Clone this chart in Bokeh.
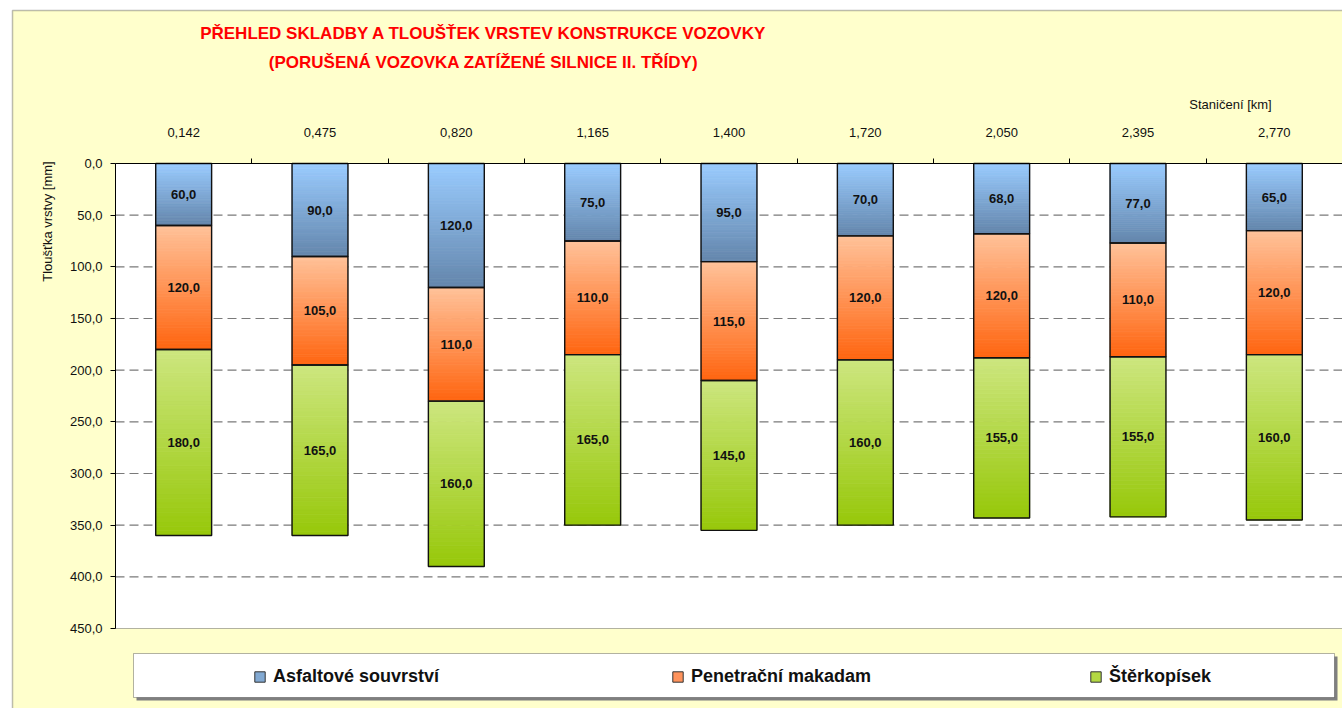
import math
from bokeh.plotting import figure
from bokeh.models import (Range1d, FixedTicker, CustomJSTickFormatter, ColumnDataSource,
                          Label, BoxAnnotation, Legend, LegendItem, LinearAxis)
from bokeh.core.properties import value
from bokeh.embed import file_html
from bokeh.resources import INLINE

# ---------------- data ----------------
stations = ["0,142", "0,475", "0,820", "1,165", "1,400", "1,720", "2,050", "2,395", "2,770"]
asfalt = [60, 90, 120, 75, 95, 70, 68, 77, 65]
makadam = [120, 105, 110, 110, 115, 120, 120, 110, 120]
sterk = [180, 165, 160, 165, 145, 160, 155, 155, 160]
series_names = ["Asfaltové souvrství", "Penetrační makadam", "Štěrkopísek"]
series_values = [asfalt, makadam, sterk]
y_ticks = [0, 50, 100, 150, 200, 250, 300, 350, 400, 450]

title_lines = ["PŘEHLED SKLADBY A TLOUŠŤEK VRSTEV KONSTRUKCE VOZOVKY",
               "(PORUŠENÁ VOZOVKA ZATÍŽENÉ SILNICE II. TŘÍDY)"]
y_label = "Tloušťka vrstvy [mm]"
x_label = "Staničení [km]"

# ---------------- layout / style ----------------
W, H = 1342, 708
PLOT_L, PLOT_T, PLOT_R, PLOT_B = 115, 163, 1342, 628   # pixel box of the plot area
grad_top = ["#9ACCFF", "#FFC29A", "#CDE67F"]
grad_bottom = ["#6486AC", "#FF6510", "#97C80A"]
legend_colors = ["#82A9D2", "#FF935C", "#B3D843"]
FONT = "Liberation Sans"
BAR_W = 0.41
N_SLICES = 40

ncat = len(stations)
y_max = y_ticks[-1]
px_cat = (PLOT_R - PLOT_L) / ncat
px_mm = (PLOT_B - PLOT_T) / y_max
x_start = -PLOT_L / px_cat
x_end = ncat + (W - PLOT_R) / px_cat
y_top = -PLOT_T / px_mm
y_bot = y_max + (H - PLOT_B) / px_mm


def hex2rgb(h):
    h = h.lstrip("#")
    return tuple(int(h[k:k + 2], 16) for k in (0, 2, 4))


def mix(c1, c2, t):
    a, b = hex2rgb(c1), hex2rgb(c2)
    return "#%02x%02x%02x" % tuple(round(a[k] + (b[k] - a[k]) * t) for k in range(3))


def sy(py):
    """canvas pixel row (from top) -> screen units of annotations (from bottom)"""
    return H - py


p = figure(width=W, height=H, output_backend="svg", toolbar_location=None, title=None,
           x_range=Range1d(x_start, x_end), y_range=Range1d(y_bot, y_top),
           x_axis_type=None, y_axis_type=None, min_border=0,
           background_fill_color="white", border_fill_color="white",
           outline_line_color=None)
p.xgrid.visible = False
p.ygrid.visible = False

# ---------- backgrounds ----------
p.add_layout(BoxAnnotation(left=12, right=W + 50, top=sy(10), bottom=-50,
                           left_units="screen", right_units="screen",
                           top_units="screen", bottom_units="screen",
                           fill_color="#FFFFCC", fill_alpha=1, line_color=None, level="image"))
p.add_layout(BoxAnnotation(left=0, right=ncat, top=0, bottom=y_max,
                           fill_color="white", fill_alpha=1, line_color="black",
                           line_width=1, level="image"))

# dashed horizontal grid lines inside the plot area
gl = y_ticks[1:-1]
p.segment(x0=[0] * len(gl), x1=[ncat] * len(gl), y0=gl, y1=gl,
          line_color="#7a7a7a", line_dash="9 5", line_width=1.2, level="underlay")

# ---------- gradient-filled stacked bars ----------
sl = dict(left=[], right=[], top=[], bottom=[], color=[])
ol = dict(left=[], right=[], top=[], bottom=[])
lab = dict(x=[], y=[], text=[])
for s, vals in enumerate(series_values):
    for i, v in enumerate(vals):
        base = sum(series_values[k][i] for k in range(s))
        xc = i + 0.5
        for j in range(N_SLICES):
            sl["left"].append(xc - BAR_W / 2)
            sl["right"].append(xc + BAR_W / 2)
            sl["top"].append(base + v * j / N_SLICES)
            sl["bottom"].append(base + v * (j + 1) / N_SLICES)
            sl["color"].append(mix(grad_top[s], grad_bottom[s], (j + 0.5) / N_SLICES))
        ol["left"].append(xc - BAR_W / 2)
        ol["right"].append(xc + BAR_W / 2)
        ol["top"].append(base)
        ol["bottom"].append(base + v)
        lab["x"].append(xc)
        lab["y"].append(base + v / 2)
        lab["text"].append(("%.1f" % v).replace(".", ","))

p.quad(left="left", right="right", top="top", bottom="bottom", fill_color="color",
       line_color="color", line_width=0.8, source=ColumnDataSource(sl))
p.quad(left="left", right="right", top="top", bottom="bottom", fill_color=None,
       line_color="#111111", line_width=1.4, source=ColumnDataSource(ol))
p.text(x="x", y="y", text="text", source=ColumnDataSource(lab), text_align="center",
       text_baseline="middle", text_font=value(FONT), text_font_style="bold",
       text_font_size="13px", text_color="#111111")

# one hidden segment per series, only used to draw the legend swatches
legend_renderers = []
for s in range(3):
    k = s * ncat
    r = p.quad(left=[ol["left"][k]], right=[ol["right"][k]], top=[ol["top"][k]],
               bottom=[ol["bottom"][k]], fill_color=legend_colors[s],
               line_color="#333333", line_width=1)
    r.visible = False
    legend_renderers.append(r)

# ---------- axes (fixed at the plot-area edges) ----------
xa = LinearAxis(fixed_location=0, bounds=(0, ncat),
                ticker=FixedTicker(ticks=[i + 0.5 for i in range(ncat)],
                                   minor_ticks=list(range(1, ncat))),
                formatter=CustomJSTickFormatter(args=dict(labels=stations),
                                                code="return labels[Math.round(tick - 0.5)];"))
xa.major_tick_line_color = None
xa.major_tick_out = 0
xa.major_tick_in = 0
xa.minor_tick_out = 5
xa.minor_tick_in = 0
xa.minor_tick_line_color = "black"
xa.axis_line_color = "black"
xa.major_label_standoff = 22
xa.major_label_text_font = FONT
xa.major_label_text_font_size = "13px"
xa.major_label_text_color = "#111111"
p.add_layout(xa, "above")

ya = LinearAxis(fixed_location=0, bounds=(0, y_max),
                ticker=FixedTicker(ticks=y_ticks),
                formatter=CustomJSTickFormatter(code="return tick.toFixed(1).replace('.', ',');"))
ya.major_tick_out = 5
ya.major_tick_in = 0
ya.minor_tick_line_color = None
ya.axis_line_color = "black"
ya.major_tick_line_color = "black"
ya.major_label_standoff = 8
ya.major_label_text_font = FONT
ya.major_label_text_font_size = "13px"
ya.major_label_text_color = "#111111"
p.add_layout(ya, "left")

# ---------- texts ----------
for txt, py in zip(title_lines, [33, 62]):
    p.add_layout(Label(x=483, y=sy(py), x_units="screen", y_units="screen", text=txt,
                       text_align="center", text_baseline="middle", text_font=FONT,
                       text_font_style="bold", text_font_size="17px", text_color="#FF0000"))
p.add_layout(Label(x=47, y=sy(221), x_units="screen", y_units="screen", text=y_label,
                   angle=math.pi / 2, text_align="center", text_baseline="middle",
                   text_font=FONT, text_font_size="13px", text_color="#111111"))
p.add_layout(Label(x=1230, y=sy(104), x_units="screen", y_units="screen", text=x_label,
                   text_align="center", text_baseline="middle",
                   text_font=FONT, text_font_size="13px", text_color="#111111"))

# ---------- chart border ----------
p.add_layout(BoxAnnotation(left=12, right=W + 50, top=sy(10), bottom=-50,
                           left_units="screen", right_units="screen",
                           top_units="screen", bottom_units="screen",
                           fill_alpha=0, line_color="#222222", line_width=1.5))

# ---------- legend ----------
p.add_layout(BoxAnnotation(left=136, right=1337, top=sy(656), bottom=sy(700),
                           left_units="screen", right_units="screen",
                           top_units="screen", bottom_units="screen",
                           fill_color="#7f7f7f", fill_alpha=1, line_color=None))
p.add_layout(BoxAnnotation(left=133, right=1334, top=sy(653), bottom=sy(697),
                           left_units="screen", right_units="screen",
                           top_units="screen", bottom_units="screen",
                           fill_color="white", fill_alpha=1, line_color="black", line_width=1))

legend = Legend(items=[LegendItem(label=series_names[s], renderers=[legend_renderers[s]])
                       for s in range(3)],
                orientation="horizontal", location=(253, 21),
                glyph_width=13, glyph_height=13, label_standoff=7, label_width=200,
                label_height=22, spacing=198, padding=0, margin=0, border_line_color=None,
                background_fill_alpha=0, label_text_font=FONT, label_text_font_style="bold",
                label_text_font_size="18px", label_text_color="#111111")
p.add_layout(legend)

open("out.html", "w").write(file_html(p, INLINE))
